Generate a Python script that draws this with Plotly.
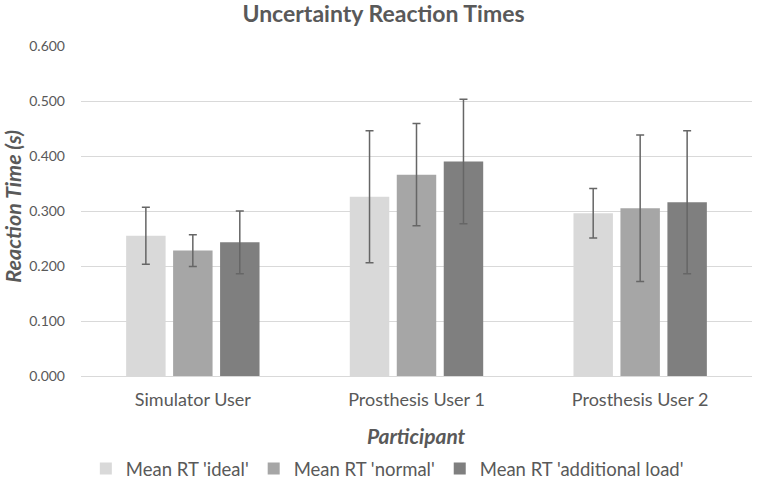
import plotly.graph_objects as go

participants = ["Simulator User", "Prosthesis User 1", "Prosthesis User 2"]
series_names = ["Mean RT 'ideal'", "Mean RT 'normal'", "Mean RT 'additional load'"]
ideal = [0.255, 0.326, 0.296]
normal = [0.228, 0.366, 0.305]
additional = [0.243, 0.390, 0.316]
ideal_err = [0.052, 0.120, 0.045]
normal_err = [0.029, 0.093, 0.133]
additional_err = [0.057, 0.113, 0.130]
colors = ["#d9d9d9", "#a6a6a6", "#7f7f7f"]
y_ticks = [0.0, 0.1, 0.2, 0.3, 0.4, 0.5, 0.6]

FONT = "Lato"
TXT = "#595959"

fig = go.Figure()
for name, vals, errs, col in zip(series_names, [ideal, normal, additional],
                                 [ideal_err, normal_err, additional_err], colors):
    fig.add_trace(go.Bar(
        x=participants, y=vals, name=name, marker=dict(color=col, line=dict(width=0)),
        error_y=dict(type="data", array=errs, visible=True, color="#666666",
                     thickness=1.5, width=4),
    ))

fig.update_layout(
    width=767, height=479,
    paper_bgcolor="white", plot_bgcolor="white",
    margin=dict(l=81, r=15, t=46, b=103, autoexpand=False),
    barmode="group", bargap=0.37, bargroupgap=0.16,
    font=dict(family=FONT, color=TXT, size=14),
    title=dict(text="<b>Uncertainty Reaction Times</b>", x=0.5, xref="container", xanchor="center",
               y=1 - 14 / 479, yref="container", yanchor="middle",
               font=dict(size=23, color=TXT, family=FONT)),
    xaxis=dict(showgrid=False, showline=False, ticks="", ticklabelstandoff=11, automargin=False,
               tickfont=dict(size=18, color=TXT)),
    yaxis=dict(range=[0, 0.6], tickvals=y_ticks, tickformat=".3f", automargin=False,
               showgrid=True, gridcolor="#d9d9d9", gridwidth=1,
               zeroline=True, zerolinecolor="#d9d9d9", zerolinewidth=1,
               showline=False, ticks="", ticklabelstandoff=15,
               tickfont=dict(size=14, color=TXT)),
    legend=dict(orientation="h", xref="container", x=0.505, xanchor="center",
                yref="container", y=(479 - 469) / 479, yanchor="middle",
                font=dict(size=18.5, color=TXT), itemwidth=30, traceorder="normal"),
    showlegend=True,
    annotations=[
        dict(text="<b><i>Participant</i></b>", xref="paper", yref="paper", x=0.5, y=(375.7 - 435) / 329.7,
             xanchor="center", yanchor="middle", showarrow=False, font=dict(size=21, color=TXT)),
        dict(text="<b><i>Reaction Time (s)</i></b>", xref="paper", yref="paper",
             x=(13 - 81) / 671, y=(375.7 - 206.5) / 329.7, textangle=-90,
             xanchor="center", yanchor="middle", showarrow=False, font=dict(size=21.5, color=TXT)),
    ],
)

fig.write_html("out.html", config={"displayModeBar": False},
               post_script="document.body.style.margin='0';document.body.style.overflow='hidden';")
